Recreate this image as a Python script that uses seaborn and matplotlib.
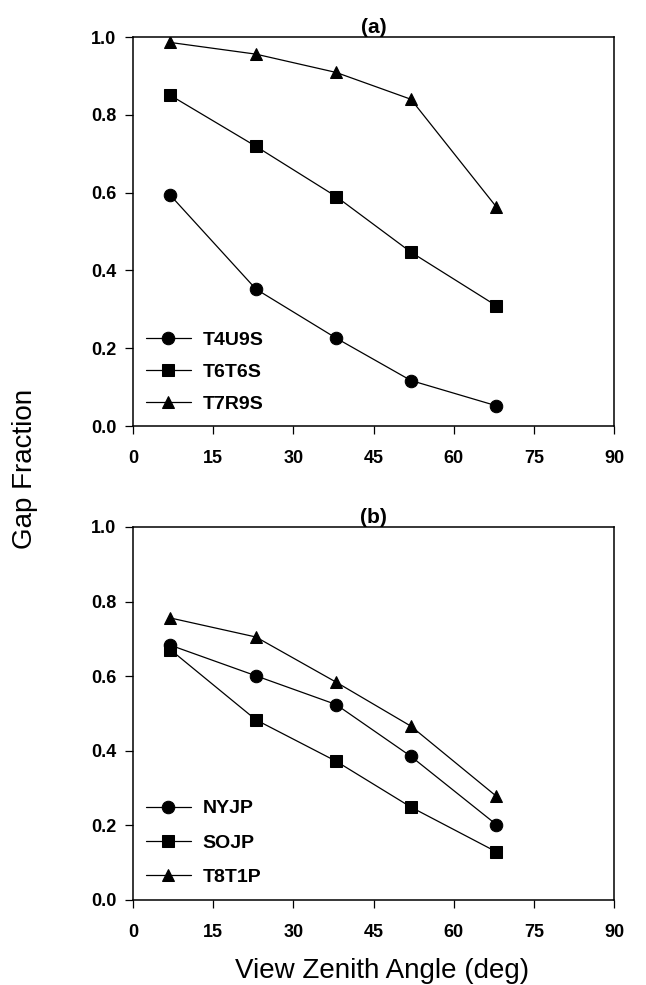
import matplotlib
matplotlib.use("Agg")
from matplotlib import pyplot as plt
import seaborn as sns

# view zenith angles (deg)
angles = [7, 23, 38, 52, 68]

# panel (a)
sites_a = ["T4U9S", "T6T6S", "T7R9S"]
t4u9s = [0.593, 0.352, 0.226, 0.117, 0.052]
t6t6s = [0.850, 0.719, 0.590, 0.447, 0.309]
t7r9s = [0.986, 0.956, 0.909, 0.840, 0.563]

# panel (b)
sites_b = ["NYJP", "SOJP", "T8T1P"]
nyjp = [0.683, 0.601, 0.524, 0.385, 0.202]
sojp = [0.671, 0.483, 0.372, 0.249, 0.129]
t8t1p = [0.756, 0.705, 0.584, 0.466, 0.278]

x_ticks = [0, 15, 30, 45, 60, 75, 90]
y_ticks = [0.0, 0.2, 0.4, 0.6, 0.8, 1.0]

markers = ["o", "s", "^"]
marker_sizes = [9, 8, 9]

sns.set_style("ticks")
plt.rcParams["font.family"] = ["Liberation Sans", "DejaVu Sans"]
plt.rcParams["text.color"] = "black"

fig = plt.figure(figsize=(6.46, 9.85), dpi=100)
ax_a = fig.add_axes([0.2059, 0.5675, 0.7446, 0.3949])
ax_b = fig.add_axes([0.2059, 0.0863, 0.7446, 0.3787])

panels = [
    (ax_a, sites_a, [t4u9s, t6t6s, t7r9s], "(a)", 0.139, 0.73),
    (ax_b, sites_b, [nyjp, sojp, t8t1p], "(b)", 0.153, 0.86),
]

for ax, sites, series, title, leg_y, spacing in panels:
    for site, vals, m, ms in zip(sites, series, markers, marker_sizes):
        sns.lineplot(ax=ax, x=angles, y=vals, marker=m, markersize=ms,
                     color="black", linewidth=0.9, markeredgecolor="black",
                     markerfacecolor="black", label=site)
    ax.set_xlim(0, 90)
    ax.set_ylim(0, 1.0)
    ax.set_xticks(x_ticks)
    ax.set_yticks(y_ticks)
    ax.set_yticklabels([f"{v:.1f}" for v in y_ticks])
    ax.tick_params(axis="both", direction="out", length=6, width=0.9,
                   labelsize=13, colors="black")
    ax.tick_params(axis="x", pad=11)
    ax.tick_params(axis="y", pad=6)
    for lab in ax.get_xticklabels() + ax.get_yticklabels():
        lab.set_fontweight("bold")
    for s in ax.spines.values():
        s.set_visible(True)
        s.set_linewidth(1.1)
        s.set_color("black")
    ax.set_xlabel("")
    ax.set_ylabel("")
    ax.set_title(title, fontsize=15, fontweight="bold", pad=1, color="black")
    handles, labels = ax.get_legend_handles_labels()
    ax.legend(handles, labels, loc="center left", frameon=False,
              prop={"size": 14, "weight": "bold"}, labelcolor="black",
              handlelength=2.3, handletextpad=0.6, labelspacing=spacing,
              borderpad=0, borderaxespad=0, bbox_to_anchor=(0.027, leg_y))

fig.text(0.0387, 0.524, "Gap Fraction", rotation=90, va="center",
         ha="center", fontsize=20, color="black")
fig.text(0.591, 0.0071, "View Zenith Angle (deg)", va="baseline",
         ha="center", fontsize=20, color="black")

fig.savefig("out.png", dpi=100)
